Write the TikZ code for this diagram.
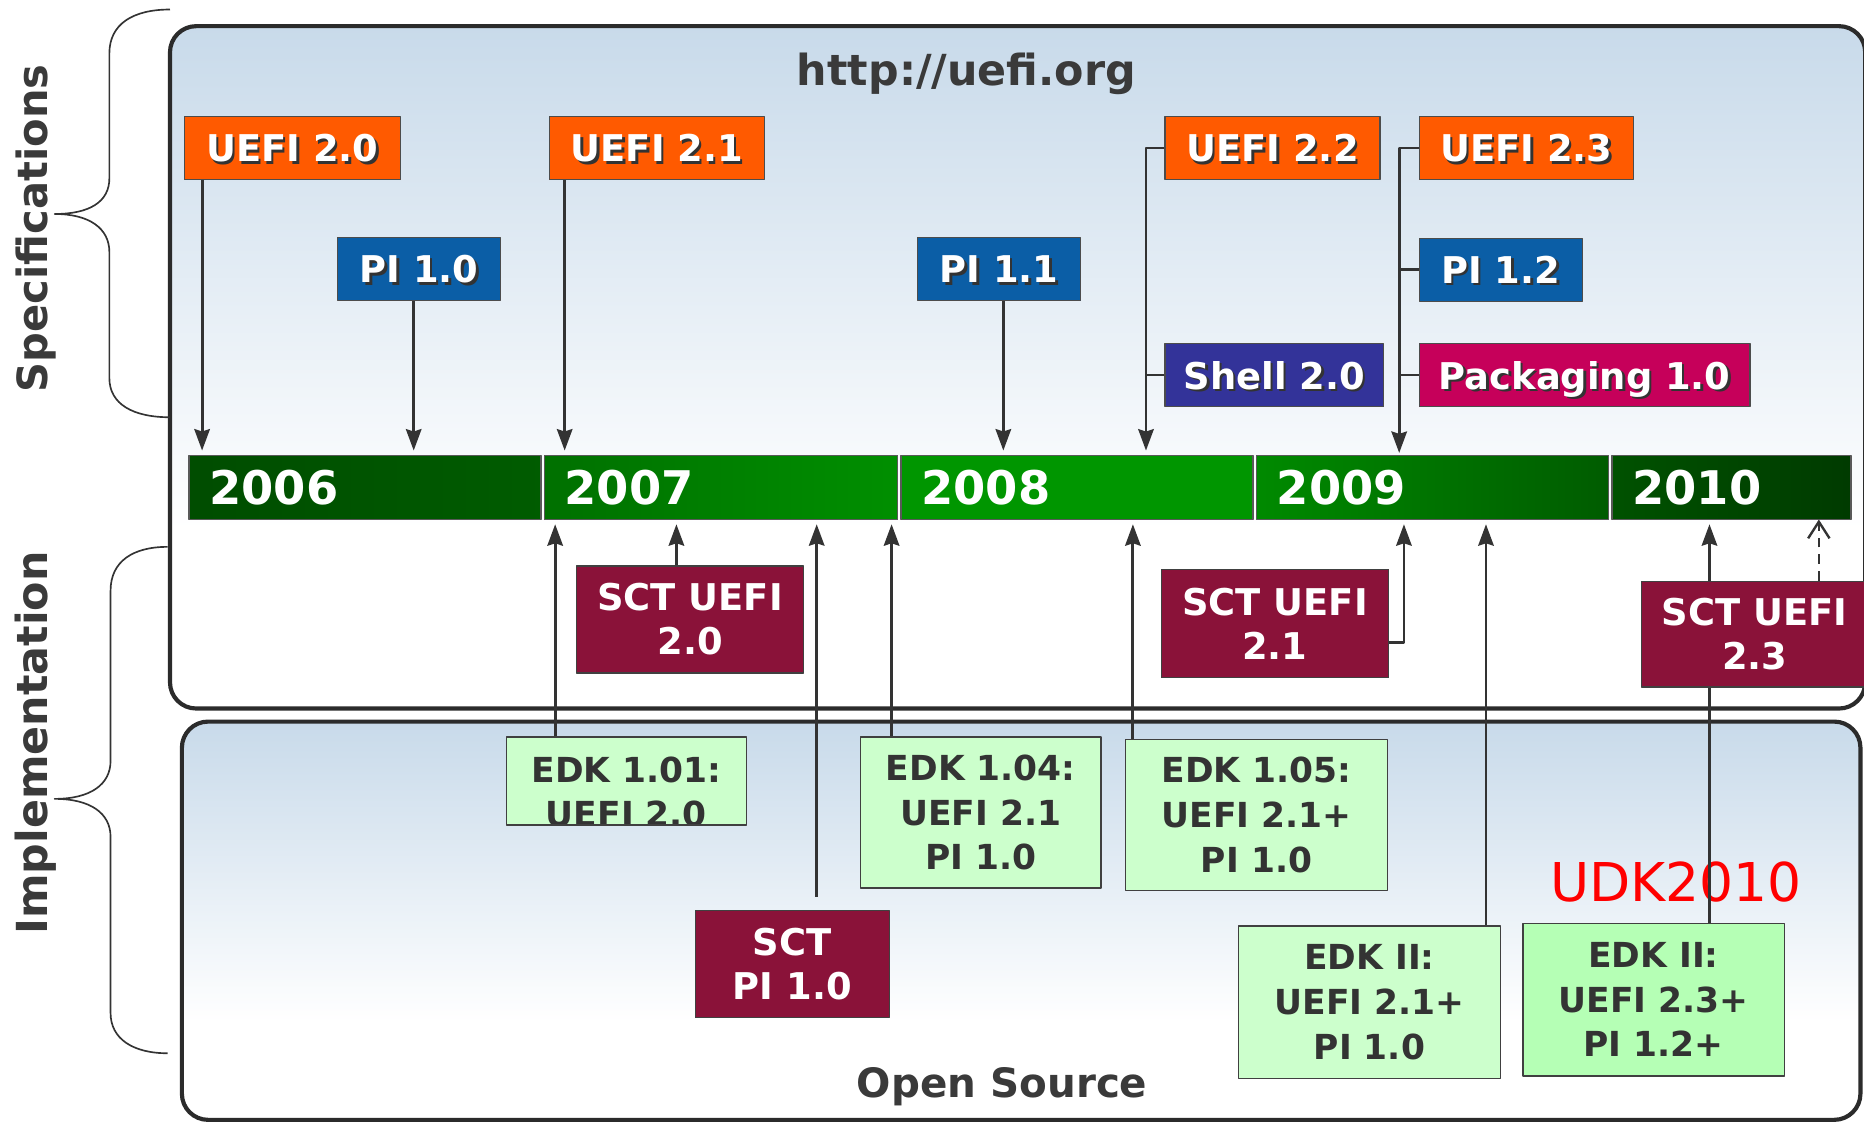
\documentclass[tikz,border=0pt]{standalone}
\usepackage{fontspec}
\setmainfont{DejaVu Sans}
\usetikzlibrary{arrows.meta}

\definecolor{uefiorange}{HTML}{FF5A00}
\definecolor{piblue}{HTML}{0B5EA6}
\definecolor{shellblue}{HTML}{333399}
\definecolor{pkgmagenta}{HTML}{C6005A}
\definecolor{sctred}{HTML}{8A1239}
\definecolor{edkgreen}{HTML}{CCFFCC}
\definecolor{udkgreen}{HTML}{B5FFB5}
\definecolor{panelblue}{HTML}{C8DAEA}
\definecolor{panelline}{HTML}{2B2B2B}
\definecolor{linegray}{HTML}{333333}
\definecolor{textgray}{HTML}{3A3A3A}

\newcommand{\shtxt}[1]{\leavevmode\rlap{\kern2pt\raisebox{-2pt}{\textcolor{black!80}{#1}}}#1}

\tikzset{
  specbox/.style={draw=black!70, line width=1.2pt, text=white, text depth=0pt,
    font=\bfseries\fontsize{31}{36}\selectfont, minimum height=53pt, inner sep=0pt},
  yearbox/.style={draw=black!65, line width=1.2pt, text=white, minimum height=54pt,
    font=\bfseries\fontsize{39}{44}\selectfont, inner xsep=17pt, inner ysep=0pt, align=left},
  sctbox/.style={draw=black!75, line width=1.2pt, fill=sctred, text=white, align=center,
    font=\bfseries\fontsize{31}{37}\selectfont, inner sep=0pt},
  edkbox/.style={draw=black!75, line width=1.2pt, fill=edkgreen, text=linegray, align=center,
    font=\bfseries\fontsize{29}{37.5}\selectfont, inner sep=0pt},
  edktext/.style={text=linegray, align=center, font=\bfseries\fontsize{29}{37.5}\selectfont},
  panel/.style={draw=panelline, line width=3.5pt, rounded corners=22pt},
  sidelabel/.style={text=textgray, rotate=90},
  link/.style={draw=linegray, line width=2.4pt},
  bracel/.style={draw=linegray, line width=1.4pt},
}

\begin{document}
\begin{tikzpicture}[x=1pt, y=-1pt, line join=round, >={Stealth[length=18pt,width=13pt,inset=2pt]}]
\useasboundingbox (0,0) rectangle (1568,946);
% the two panels
\begin{scope}
  \clip[rounded corners=22pt] (143,22) rectangle (1569,596);
  \fill[white] (143,22) rectangle (1569,596);
  \shade[top color=panelblue, bottom color=white] (143,22) rectangle (1569,445);
\end{scope}
\draw[panel] (143,22) rectangle (1569,596);
\begin{scope}
  \clip[rounded corners=22pt] (153,607) rectangle (1565,942);
  \fill[white] (153,607) rectangle (1565,942);
  \shade[top color=panelblue, bottom color=white] (153,607) rectangle (1565,860);
\end{scope}
\draw[panel] (153,607) rectangle (1565,942);

% braces on the left
\draw[bracel] (143,8) .. controls (112,8) and (92,20) .. (92,45) -- (92,150)
  .. controls (92,170) and (75,180) .. (46,180) .. controls (75,180) and (92,192) .. (92,212)
  -- (92,318) .. controls (92,340) and (112,351) .. (143,351);
\draw[bracel] (141,460) .. controls (112,460) and (93,472) .. (93,497) -- (93,640)
  .. controls (93,660) and (76,672) .. (46,672) .. controls (76,672) and (93,684) .. (93,704)
  -- (93,852) .. controls (93,874) and (112,886) .. (141,886);
\node[sidelabel, font=\bfseries\fontsize{35}{40}\selectfont] (spec) at (30,192) {Specifications};
\node[sidelabel, font=\bfseries\fontsize{36}{40}\selectfont] (impl) at (30,625) {Implementation};

\node[text=textgray, font=\bfseries\fontsize{36}{40}\selectfont, anchor=base] (url) at (813,72) {http://uefi.org};

% timeline
\node[yearbox, text width=262pt, left color=green!30!black, right color=green!36!black] (y2006) at (307,410) {2006};
\node[yearbox, text width=263pt, left color=green!44!black, right color=green!56!black] (y2007) at (606.5,410) {2007};
\node[yearbox, text width=262pt, fill=green!59!black] (y2008) at (906,410) {2008};
\node[yearbox, text width=262pt, left color=green!54!black, right color=green!36!black] (y2009) at (1205,410) {2009};
\node[yearbox, text width=167pt, left color=green!32!black, right color=green!23!black] (y2010) at (1456.5,410) {2010};

% specifications
\node[specbox, fill=uefiorange, minimum width=182pt] (u20) at (246,124.5) {\shtxt{UEFI 2.0}};
\node[specbox, fill=uefiorange, minimum width=181pt] (u21) at (552.5,124.5) {\shtxt{UEFI 2.1}};
\node[specbox, fill=uefiorange, minimum width=181pt] (u22) at (1070.5,124.5) {\shtxt{UEFI 2.2}};
\node[specbox, fill=uefiorange, minimum width=180pt] (u23) at (1284,124.5) {\shtxt{UEFI 2.3}};
\node[specbox, fill=piblue, minimum width=137pt] (pi10) at (352.5,226.5) {\shtxt{PI 1.0}};
\node[specbox, fill=piblue, minimum width=137pt] (pi11) at (840.5,226.5) {\shtxt{PI 1.1}};
\node[specbox, fill=piblue, minimum width=137pt] (pi12) at (1262.5,227) {\shtxt{PI 1.2}};
\node[specbox, fill=shellblue, minimum width=184pt] (sh20) at (1072,315.5) {\shtxt{Shell 2.0}};
\node[specbox, fill=pkgmagenta, minimum width=278pt] (pk10) at (1333,315.5) {\shtxt{Packaging 1.0}};

\coordinate (t20) at (170,379);
\coordinate (t10) at (348,379);
\coordinate (t21) at (475,379);
\coordinate (t11) at (844,379);
\coordinate (t22) at (964,379);
\coordinate (t23) at (1177,381);
\draw[link,->] (u20.south -| t20) -- (t20);
\draw[link,->] (pi10.south -| t10) -- (t10);
\draw[link,->] (u21.south -| t21) -- (t21);
\draw[link,->] (pi11.south -| t11) -- (t11);
\draw[link,->] (u22.west) -| (t22);
\draw[link] (sh20.west) -- (sh20.west -| t22);
\draw[link,->] (u23.west) -| (t23);
\draw[link] (pi12.west) -- (pi12.west -| t23);
\draw[link] (pk10.west) -- (pk10.west -| t23);

% implementations
\node[sctbox, minimum width=191pt, minimum height=90pt] (sct20) at (580.5,521) {SCT UEFI\\2.0};
\node[sctbox, minimum width=191pt, minimum height=91pt] (sct21) at (1072.5,524.5) {SCT UEFI\\2.1};
\node[sctbox, minimum width=163pt, minimum height=90pt] (sctpi) at (666.5,811) {SCT\\PI 1.0};
\node[edkbox, minimum width=202pt, minimum height=74pt,
  path picture={\node[edktext] at ([yshift=-9pt]path picture bounding box.center) {EDK 1.01:\\UEFI 2.0};}] (e101) at (527,657) {};
\node[edkbox, minimum width=202pt, minimum height=127pt] (e104) at (825,683.5) {EDK 1.04:\\UEFI 2.1\\PI 1.0};
\node[edkbox, minimum width=220pt, minimum height=127pt] (e105) at (1057,685.5) {EDK 1.05:\\UEFI 2.1+\\PI 1.0};
\node[edkbox, minimum width=220pt, minimum height=128pt] (e2a) at (1152,843) {EDK II:\\UEFI 2.1+\\PI 1.0};
\node[text=red, font=\fontsize{45}{50}\selectfont] (udk) at (1410,742) {UDK2010};
\node[edkbox, fill=udkgreen, minimum width=220pt, minimum height=128pt] (e2b) at (1391,841) {EDK II:\\UEFI 2.3+\\PI 1.2+};
\node[text=textgray, font=\bfseries\fontsize{34}{40}\selectfont] (os) at (843,914) {Open Source};

\coordinate (b101) at (467,441);
\coordinate (bs20) at (569,441);
\coordinate (bspi) at (687,441);
\coordinate (b104) at (750,441);
\coordinate (b105) at (953,441);
\coordinate (bs21) at (1181,441);
\coordinate (b2a) at (1250,441);
\coordinate (b2b) at (1438,441);
\coordinate (bs23) at (1530,437);
\draw[link,->] (e2b.north -| b2b) -- (b2b);
\node[sctbox, minimum width=190pt, minimum height=89pt] (sct23) at (1476,533.5) {SCT UEFI\\2.3};
\draw[link,->] (e101.north -| b101) -- (b101);
\draw[link,->] (sct20.north -| bs20) -- (bs20);
\draw[link,->] ([yshift=11pt]sctpi.north -| bspi) -- (bspi);
\draw[link,->] (e104.north -| b104) -- (b104);
\draw[link,->] (e105.north -| b105) -- (b105);
\draw[link,->] ([yshift=-16pt]sct21.east) -| (bs21);
\draw[link,->] (e2a.north -| b2a) -- (b2a);
\draw[link, line width=2pt, dash pattern=on 8pt off 6pt, -{Straight Barb[length=14pt,width=18pt]}] (sct23.north -| bs23) -- (bs23);
\end{tikzpicture}
\end{document}
